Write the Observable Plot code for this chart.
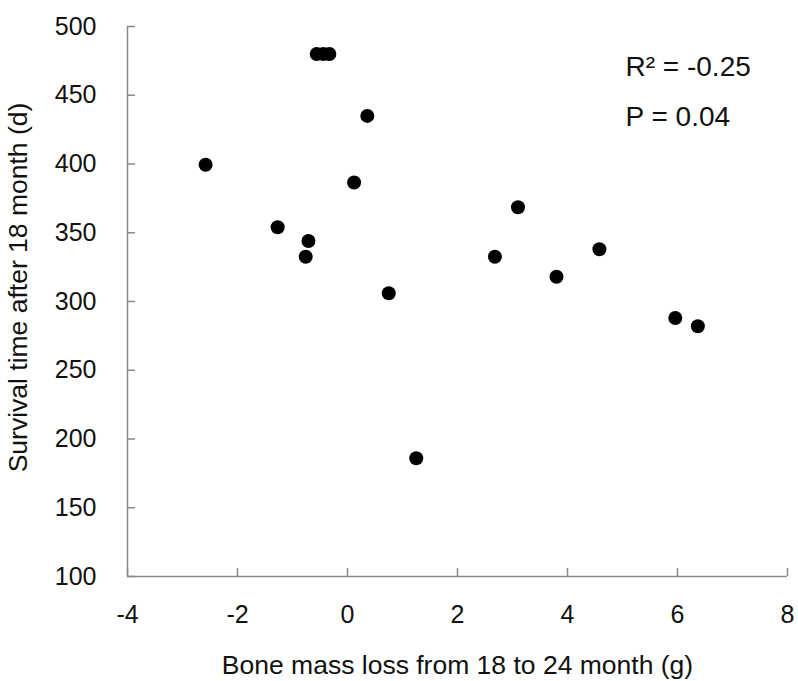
<!DOCTYPE html>
<html>
<head>
<meta charset="utf-8">
<script src="https://cdn.jsdelivr.net/npm/d3@7"></script>
<script src="https://cdn.jsdelivr.net/npm/@observablehq/plot@0.6"></script>
<style>
  html, body { margin: 0; padding: 0; background: #fff; }
  #chart { width: 798px; height: 681px; }
</style>
</head>
<body>
<div id="chart"></div>
<script>
const xTicks = [-4, -2, 0, 2, 4, 6, 8];
const yTicks = [100, 150, 200, 250, 300, 350, 400, 450, 500];
const boneLoss = [-0.56, -0.44, -0.33, 0.36, -2.58, 0.12, -1.27, -0.71, -0.76, 2.68, 0.75, 1.25, 3.10, 4.58, 3.80, 5.96, 6.37];
const survival = [480, 480, 480, 435, 399.5, 386.5, 354, 344, 332.5, 332.5, 306, 186, 368.5, 338, 318, 288, 282];
const xLabel = "Bone mass loss from 18 to 24 month (g)";
const yLabel = "Survival time after 18 month (d)";
const stats = ["R\u00B2 = -0.25", "P = 0.04"];

const points = boneLoss.map((x, i) => ({x, y: survival[i]}));
const axisColor = "#8a8a8a";
const font = "'Liberation Sans', Arial, sans-serif";

const chart = Plot.plot({
  width: 798,
  height: 681,
  marginLeft: 127,
  marginRight: 11,
  marginTop: 26,
  marginBottom: 105,
  style: {fontFamily: font, color: "#111", background: "#fff"},
  x: {domain: [xTicks[0], xTicks[xTicks.length - 1]]},
  y: {domain: [yTicks[0], yTicks[yTicks.length - 1]]},
  marks: [
    Plot.axisX({ticks: xTicks, tickSize: 0, tickPadding: 29, fontSize: 25, tickFormat: d => String(d), label: null}),
    Plot.axisY({ticks: yTicks, tickSize: 0, tickPadding: 31, fontSize: 25, tickFormat: d => String(d), label: null}),
    Plot.tickX(xTicks, {x: d => d, insetTop: 542, stroke: axisColor, strokeWidth: 1.5}),
    Plot.tickY(yTicks, {y: d => d, insetRight: 652, stroke: axisColor, strokeWidth: 1.5}),
    Plot.ruleX([xTicks[0]], {stroke: axisColor, strokeWidth: 1.5}),
    Plot.ruleY([yTicks[0]], {stroke: axisColor, strokeWidth: 1.5}),
    Plot.dot(points, {x: "x", y: "y", r: 7, fill: "#000", stroke: null}),
    Plot.text([xLabel], {text: d => d, frameAnchor: "bottom", dy: 97, lineAnchor: "bottom", fontSize: 26.5, fill: "#111"}),
    Plot.text([yLabel], {text: d => d, frameAnchor: "left", textAnchor: "middle", dx: -119, dy: -14, rotate: -90, lineAnchor: "top", fontSize: 26.5, fill: "#111"}),
    Plot.text([stats[0]], {text: d => d, frameAnchor: "top-right", textAnchor: "start", dx: -162, dy: 49, lineAnchor: "bottom", fontSize: 28, fill: "#111"}),
    Plot.text([stats[1]], {text: d => d, frameAnchor: "top-right", textAnchor: "start", dx: -162, dy: 99, lineAnchor: "bottom", fontSize: 28, fill: "#111"})
  ]
});
document.getElementById("chart").appendChild(chart);
</script>
</body>
</html>
